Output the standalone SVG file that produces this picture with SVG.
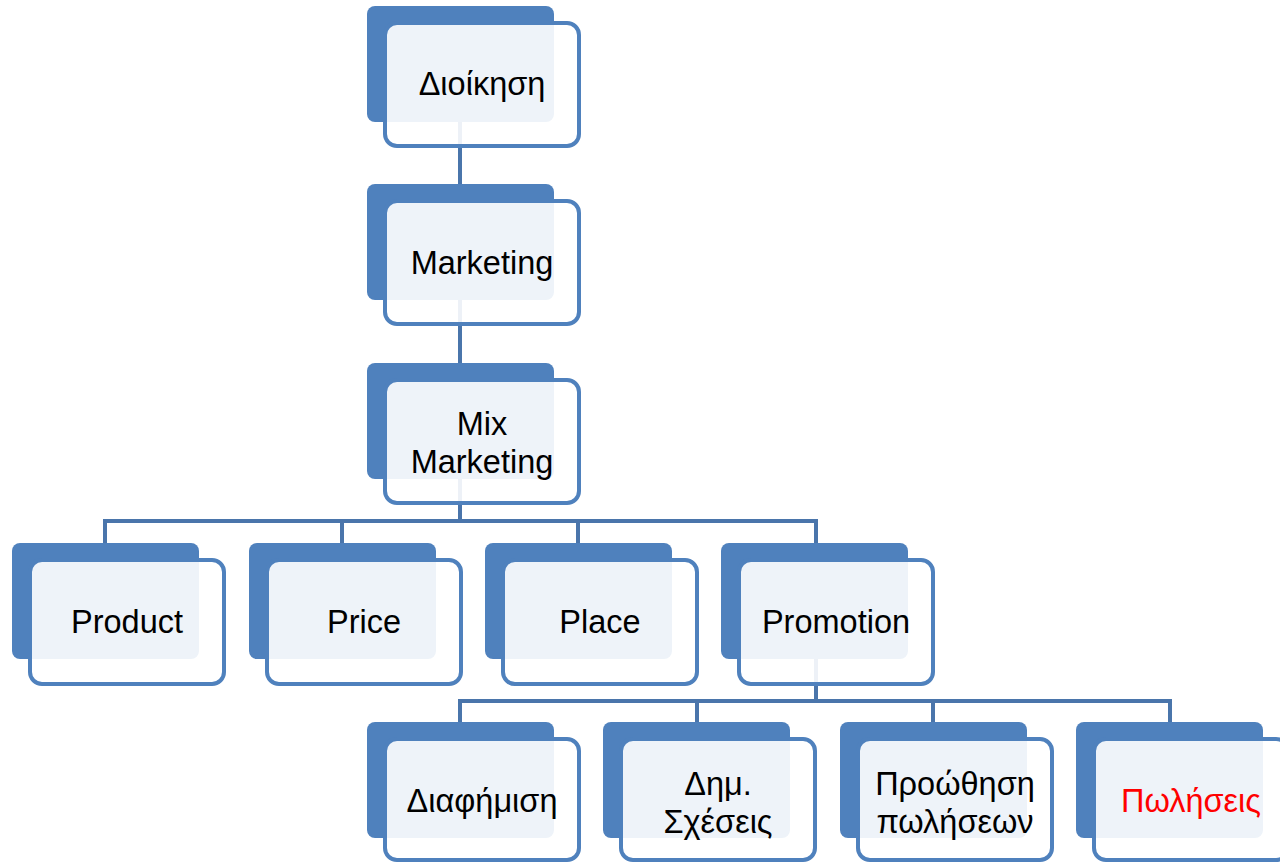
<svg xmlns="http://www.w3.org/2000/svg" width="1280" height="862" viewBox="0 0 1280 862">
<style>
.bk{fill:#4f81bd}
.fr{fill:#ffffff;fill-opacity:0.9;stroke:#4f81bd;stroke-width:4}
.tx{font-family:"Liberation Sans",Arial,sans-serif;font-size:32.5px;fill:#000;text-anchor:middle}
.red{fill:#ff0000}
.cn{fill:none;stroke:#4a75ab;stroke-width:4}
</style>
<rect width="1280" height="862" fill="#ffffff"/>
<g id="connectors">
<path class="cn" d="M460 120V190"/>
<path class="cn" d="M460 300V370"/>
<path class="cn" d="M460 479V521M105 545V521H816V545M342 521V545M578 521V545"/>
<path class="cn" d="M816 659V701M460 724V701H1170V724M697 701V724M933 701V724"/>
</g>
<g id="n1"><rect class="bk" x="367" y="6" width="187" height="116" rx="8"/><rect class="fr" x="385" y="23" width="194" height="123" rx="12"/><text class="tx" x="482" y="95">Διοίκηση</text></g>
<g id="n2"><rect class="bk" x="367" y="184" width="187" height="116" rx="8"/><rect class="fr" x="385" y="201" width="194" height="123" rx="12"/><text class="tx" x="482" y="274">Marketing</text></g>
<g id="n3"><rect class="bk" x="367" y="363" width="187" height="116" rx="8"/><rect class="fr" x="385" y="380" width="194" height="123" rx="12"/><text class="tx" x="482" y="435">Mix</text><text class="tx" x="482" y="473">Marketing</text></g>
<g id="n4"><rect class="bk" x="12" y="543" width="187" height="116" rx="8"/><rect class="fr" x="30" y="560" width="194" height="124" rx="12"/><text class="tx" x="127" y="633">Product</text></g>
<g id="n5"><rect class="bk" x="249" y="543" width="187" height="116" rx="8"/><rect class="fr" x="267" y="560" width="194" height="124" rx="12"/><text class="tx" x="364" y="633">Price</text></g>
<g id="n6"><rect class="bk" x="485" y="543" width="187" height="116" rx="8"/><rect class="fr" x="503" y="560" width="194" height="124" rx="12"/><text class="tx" x="600" y="633">Place</text></g>
<g id="n7"><rect class="bk" x="721" y="543" width="187" height="116" rx="8"/><rect class="fr" x="739" y="560" width="194" height="124" rx="12"/><text class="tx" x="836" y="633">Promotion</text></g>
<g id="n8"><rect class="bk" x="367" y="722" width="187" height="116" rx="8"/><rect class="fr" x="385" y="739" width="194" height="121" rx="12"/><text class="tx" x="482" y="812">Διαφήμιση</text></g>
<g id="n9"><rect class="bk" x="603" y="722" width="187" height="116" rx="8"/><rect class="fr" x="621" y="739" width="194" height="121" rx="12"/><text class="tx" x="718" y="795">Δημ.</text><text class="tx" x="718" y="833">Σχέσεις</text></g>
<g id="n10"><rect class="bk" x="840" y="722" width="187" height="116" rx="8"/><rect class="fr" x="858" y="739" width="194" height="121" rx="12"/><text class="tx" x="955" y="795">Προώθηση</text><text class="tx" x="955" y="833">πωλήσεων</text></g>
<g id="n11"><rect class="bk" x="1076" y="722" width="187" height="116" rx="8"/><rect class="fr" x="1094" y="739" width="194" height="121" rx="12"/><text class="tx red" x="1191" y="812">Πωλήσεις</text></g>
</svg>
